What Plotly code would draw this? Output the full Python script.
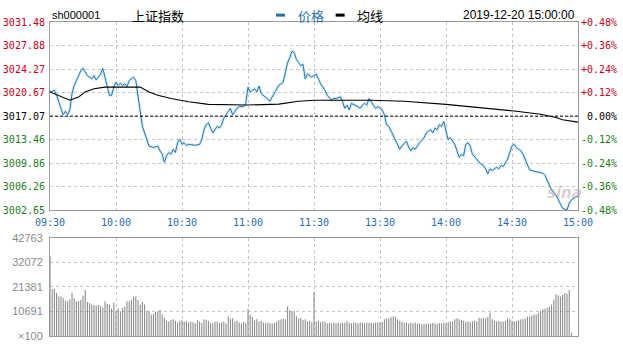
import plotly.graph_objects as go

# ---------------- data ----------------
prev_close = 3017.07
price_ticks = [3002.65, 3006.26, 3009.86, 3013.46, 3017.07, 3020.67, 3024.27, 3027.88, 3031.48]
pct_labels = ["-0.48%", "-0.36%", "-0.24%", "-0.12%", "0.00%", "+0.12%", "+0.24%", "+0.36%", "+0.48%"]
time_ticks = [0, 30, 60, 90, 120, 150, 180, 210, 240]
time_labels = ["09:30", "10:00", "10:30", "11:00", "11:30", "13:30", "14:00", "14:30", "15:00"]
vol_ticks = [0, 10691, 21381, 32072, 42763]
vol_labels = ["×100", "10691", "21381", "32072", "42763"]

price_min = [0, 2, 3, 5, 6, 7, 8, 9, 10, 11, 12, 13, 14, 15, 17, 18, 19, 20, 21, 23, 24, 25, 26, 27, 28, 29,
             30, 31, 32, 33, 34, 35, 36, 37, 38, 39, 40, 41, 42, 44, 45, 47, 49, 50, 51, 52, 53, 54, 55, 56,
             57, 58, 59, 60, 61, 62, 63, 66, 68, 69, 70, 71, 72, 74, 75, 76, 77, 78, 79, 81, 82, 83, 85, 86,
             88, 89, 90, 91, 92, 93, 94, 95, 96, 97, 98, 100, 101, 103, 104, 106, 107, 108, 109, 110, 111,
             112, 113, 114, 115, 116, 117, 118, 119, 120, 121, 122, 123, 125, 126, 128, 129, 130, 132, 133,
             134, 135, 136, 137, 139, 140, 141, 142, 143, 144, 145, 146, 147, 148, 149, 151, 152, 153, 154,
             155, 156, 157, 159, 160, 161, 162, 163, 164, 165, 166, 167, 168, 170, 171, 172, 173, 174, 175,
             176, 177, 178, 179, 180, 181, 182, 184, 185, 186, 187, 188, 189, 190, 191, 192, 194, 195, 197,
             198, 199, 200, 201, 203, 204, 205, 206, 207, 208, 209, 210, 211, 212, 213, 214, 215, 216, 217,
             218, 220, 222, 224, 225, 226, 227, 228, 230, 231, 232, 233, 235, 236, 237, 238, 239, 240]
price_val = [3020.78, 3021.02, 3020.26, 3018.02, 3017.27, 3017.82, 3017.27, 3018.02, 3020.52, 3021.77,
             3022.52, 3023.27, 3024.02, 3024.42, 3023.27, 3023.03, 3022.77, 3023.27, 3022.62, 3023.52,
             3024.37, 3023.03, 3021.52, 3020.26, 3020.26, 3021.52, 3022.27, 3021.77, 3022.12, 3021.77,
             3022.02, 3021.62, 3022.52, 3022.77, 3023.03, 3022.52, 3020.02, 3018.02, 3015.52, 3013.51,
             3012.51, 3012.26, 3012.51, 3011.76, 3011.25, 3010.01, 3011.01, 3011.51, 3011.25, 3012.01,
             3011.51, 3013.01, 3013.51, 3012.76, 3013.01, 3012.61, 3012.76, 3012.61, 3012.76, 3013.51,
             3015.01, 3015.76, 3016.02, 3014.51, 3015.01, 3015.52, 3015.26, 3015.76, 3016.77, 3017.70,
             3018.27, 3017.27, 3018.27, 3018.53, 3018.53, 3019.02, 3021.52, 3020.78, 3021.02, 3021.27,
             3020.78, 3021.67, 3020.52, 3020.26, 3020.02, 3019.36, 3020.02, 3021.27, 3021.77, 3022.27,
             3023.78, 3025.28, 3026.03, 3027.02, 3026.78, 3025.77, 3025.28, 3024.77, 3025.02, 3022.77,
             3023.52, 3023.27, 3023.03, 3023.27, 3023.52, 3022.77, 3022.02, 3021.02, 3020.26, 3019.51,
             3019.77, 3019.77, 3020.02, 3019.27, 3018.27, 3018.77, 3018.02, 3019.02, 3018.77, 3018.53,
             3018.27, 3018.77, 3019.02, 3018.77, 3019.77, 3019.27, 3018.77, 3018.27, 3018.53, 3018.02,
             3017.27, 3015.76, 3015.52, 3014.77, 3014.26, 3013.26, 3012.01, 3012.51, 3012.90, 3013.26,
             3012.36, 3011.76, 3012.26, 3012.01, 3012.51, 3013.01, 3013.76, 3014.51, 3014.77, 3015.01,
             3014.51, 3015.26, 3015.01, 3015.76, 3015.52, 3016.27, 3014.77, 3013.51, 3013.76, 3012.76,
             3011.76, 3010.75, 3011.25, 3011.01, 3012.76, 3013.01, 3012.51, 3011.25, 3010.50, 3010.01,
             3009.51, 3009.01, 3008.25, 3009.01, 3008.76, 3009.26, 3009.01, 3009.51, 3009.36, 3010.01,
             3010.50, 3011.51, 3012.51, 3012.76, 3012.26, 3012.01, 3011.76, 3011.25, 3010.50, 3009.51,
             3008.85, 3008.65, 3008.50, 3008.35, 3008.01, 3007.26, 3006.51, 3005.75, 3005.00, 3004.25,
             3003.50, 3002.99, 3002.70, 3003.74, 3004.25, 3004.49, 3004.75, 3004.94]

avg_min = [0, 9, 13, 16, 20, 25, 38, 41, 45, 49, 55, 63, 72, 81, 89, 104, 113, 120, 133, 146, 161, 180,
           211, 223, 230, 233, 240]
avg_val = [3020.78, 3019.51, 3020.02, 3020.78, 3021.27, 3021.52, 3021.52, 3021.52, 3020.78, 3020.26,
           3019.77, 3019.27, 3018.87, 3018.77, 3018.77, 3018.91, 3019.36, 3019.51, 3019.51, 3019.51,
           3019.36, 3018.87, 3017.86, 3017.37, 3016.87, 3016.51, 3016.16]

volume = [35000, 20500, 20500, 18700, 17200, 17200, 16500, 15500, 15100, 16000,
          18800, 16500, 15000, 15100, 15700, 17500, 20000, 14800, 14400, 13700,
          13500, 13200, 13500, 13000, 12200, 15100, 14000, 13700, 12000, 14600,
          11000, 12000, 10800, 12200, 12900, 15100, 15100, 15700, 17200, 17200,
          15700, 13700, 14800, 13700, 10800, 10800, 9400, 9700, 10500, 10800,
          11300, 9400, 8000, 6600, 6300, 7000, 7400, 6600, 5900, 6600,
          6900, 6300, 6600, 5900, 6300, 6000, 5600, 6900, 6300, 5700,
          7300, 7100, 6500, 5600, 5600, 6300, 6300, 5600, 5900, 6300,
          5500, 8600, 7600, 7700, 6300, 6600, 5900, 5400, 6300, 5600,
          11800, 9400, 8300, 6900, 7400, 6300, 6600, 5900, 5400, 5900,
          5600, 5400, 5700, 6300, 6900, 7300, 7600, 7300, 13000, 11300,
          10500, 11000, 8600, 7600, 7900, 7000, 7300, 6300, 6600, 6000,
          19100,
          6300, 6600, 6000, 6300, 6200, 5600, 5800, 5500, 5800, 5600,
          5800, 5500, 5800, 5800, 6400, 5800, 5600, 5900, 5800, 5600,
          5900, 5800, 5600, 5900, 5700, 5800, 5600, 5800, 6000, 5800,
          6200, 7300, 7700, 7600, 8200, 8500, 8400, 7300, 6600, 6200,
          5800, 5900, 5500, 5800, 5600, 5900, 5300, 5600, 5100, 5300,
          5600, 5300, 5500, 5700, 5500, 5300, 5600, 5500, 5800, 5500,
          6000, 6300, 6200, 7300, 7700, 7300, 6900, 6500, 6200, 6300,
          6000, 6300, 6700, 6300, 8000, 7700, 8000, 7600, 8300, 10100,
          7300, 6600, 6300, 6500, 6300, 6200, 6500, 7600, 7300, 6600,
          6300, 6500, 6900, 7300, 7300, 7600, 8400, 8500, 8800, 9400,
          9400, 10100, 10800, 11500, 11900, 12300, 12900, 13700, 15800, 18200,
          17700, 17200, 18000, 18700, 18400, 20100, 1400, 0, 0, 0]
minutes = list(range(len(volume)))

# ---------------- styling ----------------
RED, GREEN, BLACK = "#c8001e", "#1b7d1b", "#000000"
BLUE_TXT = "#1f6fb0"
MONO = "DejaVu Sans Mono"


def tick_color(v):
    if v > prev_close + 1e-6:
        return RED
    if v < prev_close - 1e-6:
        return GREEN
    return BLACK


left_text = [f'<span style="color:{tick_color(v)}">{v:.2f}</span>' for v in price_ticks]
right_text = [f'<span style="color:{tick_color(v)}">{("\u00a0" + t) if t == "0.00%" else t}</span>'
              for v, t in zip(price_ticks, pct_labels)]

fig = go.Figure()
fig.add_trace(go.Bar(x=minutes, y=volume, width=0.45,
                     marker=dict(color="rgba(128,128,128,0.99)", line=dict(width=0)),
                     xaxis="x2", yaxis="y2", hoverinfo="skip"))
fig.add_trace(go.Scatter(x=price_min, y=price_val, mode="lines",
                         line=dict(color="rgba(175,222,245,0.5)", width=3), hoverinfo="skip"))
fig.add_trace(go.Scatter(x=price_min, y=price_val, mode="lines", line=dict(color="#2a72a4", width=1)))
fig.add_trace(go.Scatter(x=avg_min, y=avg_val, mode="lines", line=dict(color="#000000", width=1.1)))
fig.add_trace(go.Scatter(x=[time_ticks[0], time_ticks[-1]], y=[prev_close, prev_close], mode="lines",
                         line=dict(color="#000000", width=1, dash="3px,2px"), yaxis="y3"))

grid = dict(showgrid=True, gridcolor="#c4c4c4", griddash="dot", gridwidth=1, zeroline=False,
            showline=True, linecolor="#9a9a9a", linewidth=1, mirror=True, ticks="")

fig.update_layout(
    width=623, height=345,
    margin=dict(l=50, r=45, t=22, b=3),
    paper_bgcolor="white", plot_bgcolor="white",
    showlegend=False,
    xaxis=dict(domain=[0, 1], range=[0, 240], anchor="y", tickvals=time_ticks, ticktext=time_labels,
               tickfont=dict(family=MONO, size=10, color=BLUE_TXT), ticklabelstandoff=3, **grid),
    yaxis=dict(domain=[0.4, 1], range=[price_ticks[0], price_ticks[-1]], tickvals=price_ticks,
               ticktext=left_text, tickfont=dict(family=MONO, size=10), ticklabelstandoff=2, **grid),
    yaxis3=dict(overlaying="y", side="right", range=[price_ticks[0], price_ticks[-1]], tickvals=price_ticks,
                ticktext=right_text, tickfont=dict(family=MONO, size=10), showgrid=False, zeroline=False,
                showline=False, ticks="", ticklabelstandoff=2),
    xaxis2=dict(domain=[0, 1], range=[0, 240], anchor="y2", matches="x", tickvals=time_ticks,
                showticklabels=False, **grid),
    yaxis2=dict(domain=[0, 0.3125], range=[vol_ticks[0], vol_ticks[-1]], tickvals=vol_ticks, ticktext=vol_labels,
                tickfont=dict(family="Liberation Sans", size=11, color="#8a8a8a"), ticklabelstandoff=4, **grid),
)

hy = 1 + 7 / 320
fig.add_annotation(text="sh000001", xref="paper", yref="paper", x=0, y=hy, xanchor="left", yanchor="middle",
                   showarrow=False, font=dict(family="Liberation Sans", size=11, color="#000"))
fig.add_annotation(text="上证指数", xref="paper", yref="paper", x=0.152, y=hy, xanchor="left", yanchor="middle",
                   showarrow=False, font=dict(family="Noto Sans CJK SC", size=13, color="#000"))
fig.add_annotation(text="价格", xref="paper", yref="paper", x=0.466, y=hy, xanchor="left", yanchor="middle",
                   showarrow=False, font=dict(family="Noto Sans CJK SC", size=13, color=BLUE_TXT))
fig.add_annotation(text="均线", xref="paper", yref="paper", x=0.578, y=hy, xanchor="left", yanchor="middle",
                   showarrow=False, font=dict(family="Noto Sans CJK SC", size=13, color="#000"))
fig.add_annotation(text="2019-12-20 15:00:00", xref="paper", yref="paper", x=0.998, y=hy, xanchor="right",
                   yanchor="middle", showarrow=False, font=dict(family="Liberation Sans", size=12, color="#000"))
fig.add_shape(type="line", xref="paper", yref="paper", x0=0.428, x1=0.445, y0=hy, y1=hy,
              line=dict(color="#2270a6", width=3))
fig.add_shape(type="line", xref="paper", yref="paper", x0=0.541, x1=0.558, y0=hy, y1=hy,
              line=dict(color="#000", width=3))
fig.add_annotation(text="<i><b>sina</b></i>", xref="x domain", yref="y domain", x=0.975, y=0.09,
                   xanchor="center", yanchor="middle", showarrow=False,
                   font=dict(family="DejaVu Sans", size=15, color="rgba(190,165,170,0.55)"))

fig.write_html("out.html")
